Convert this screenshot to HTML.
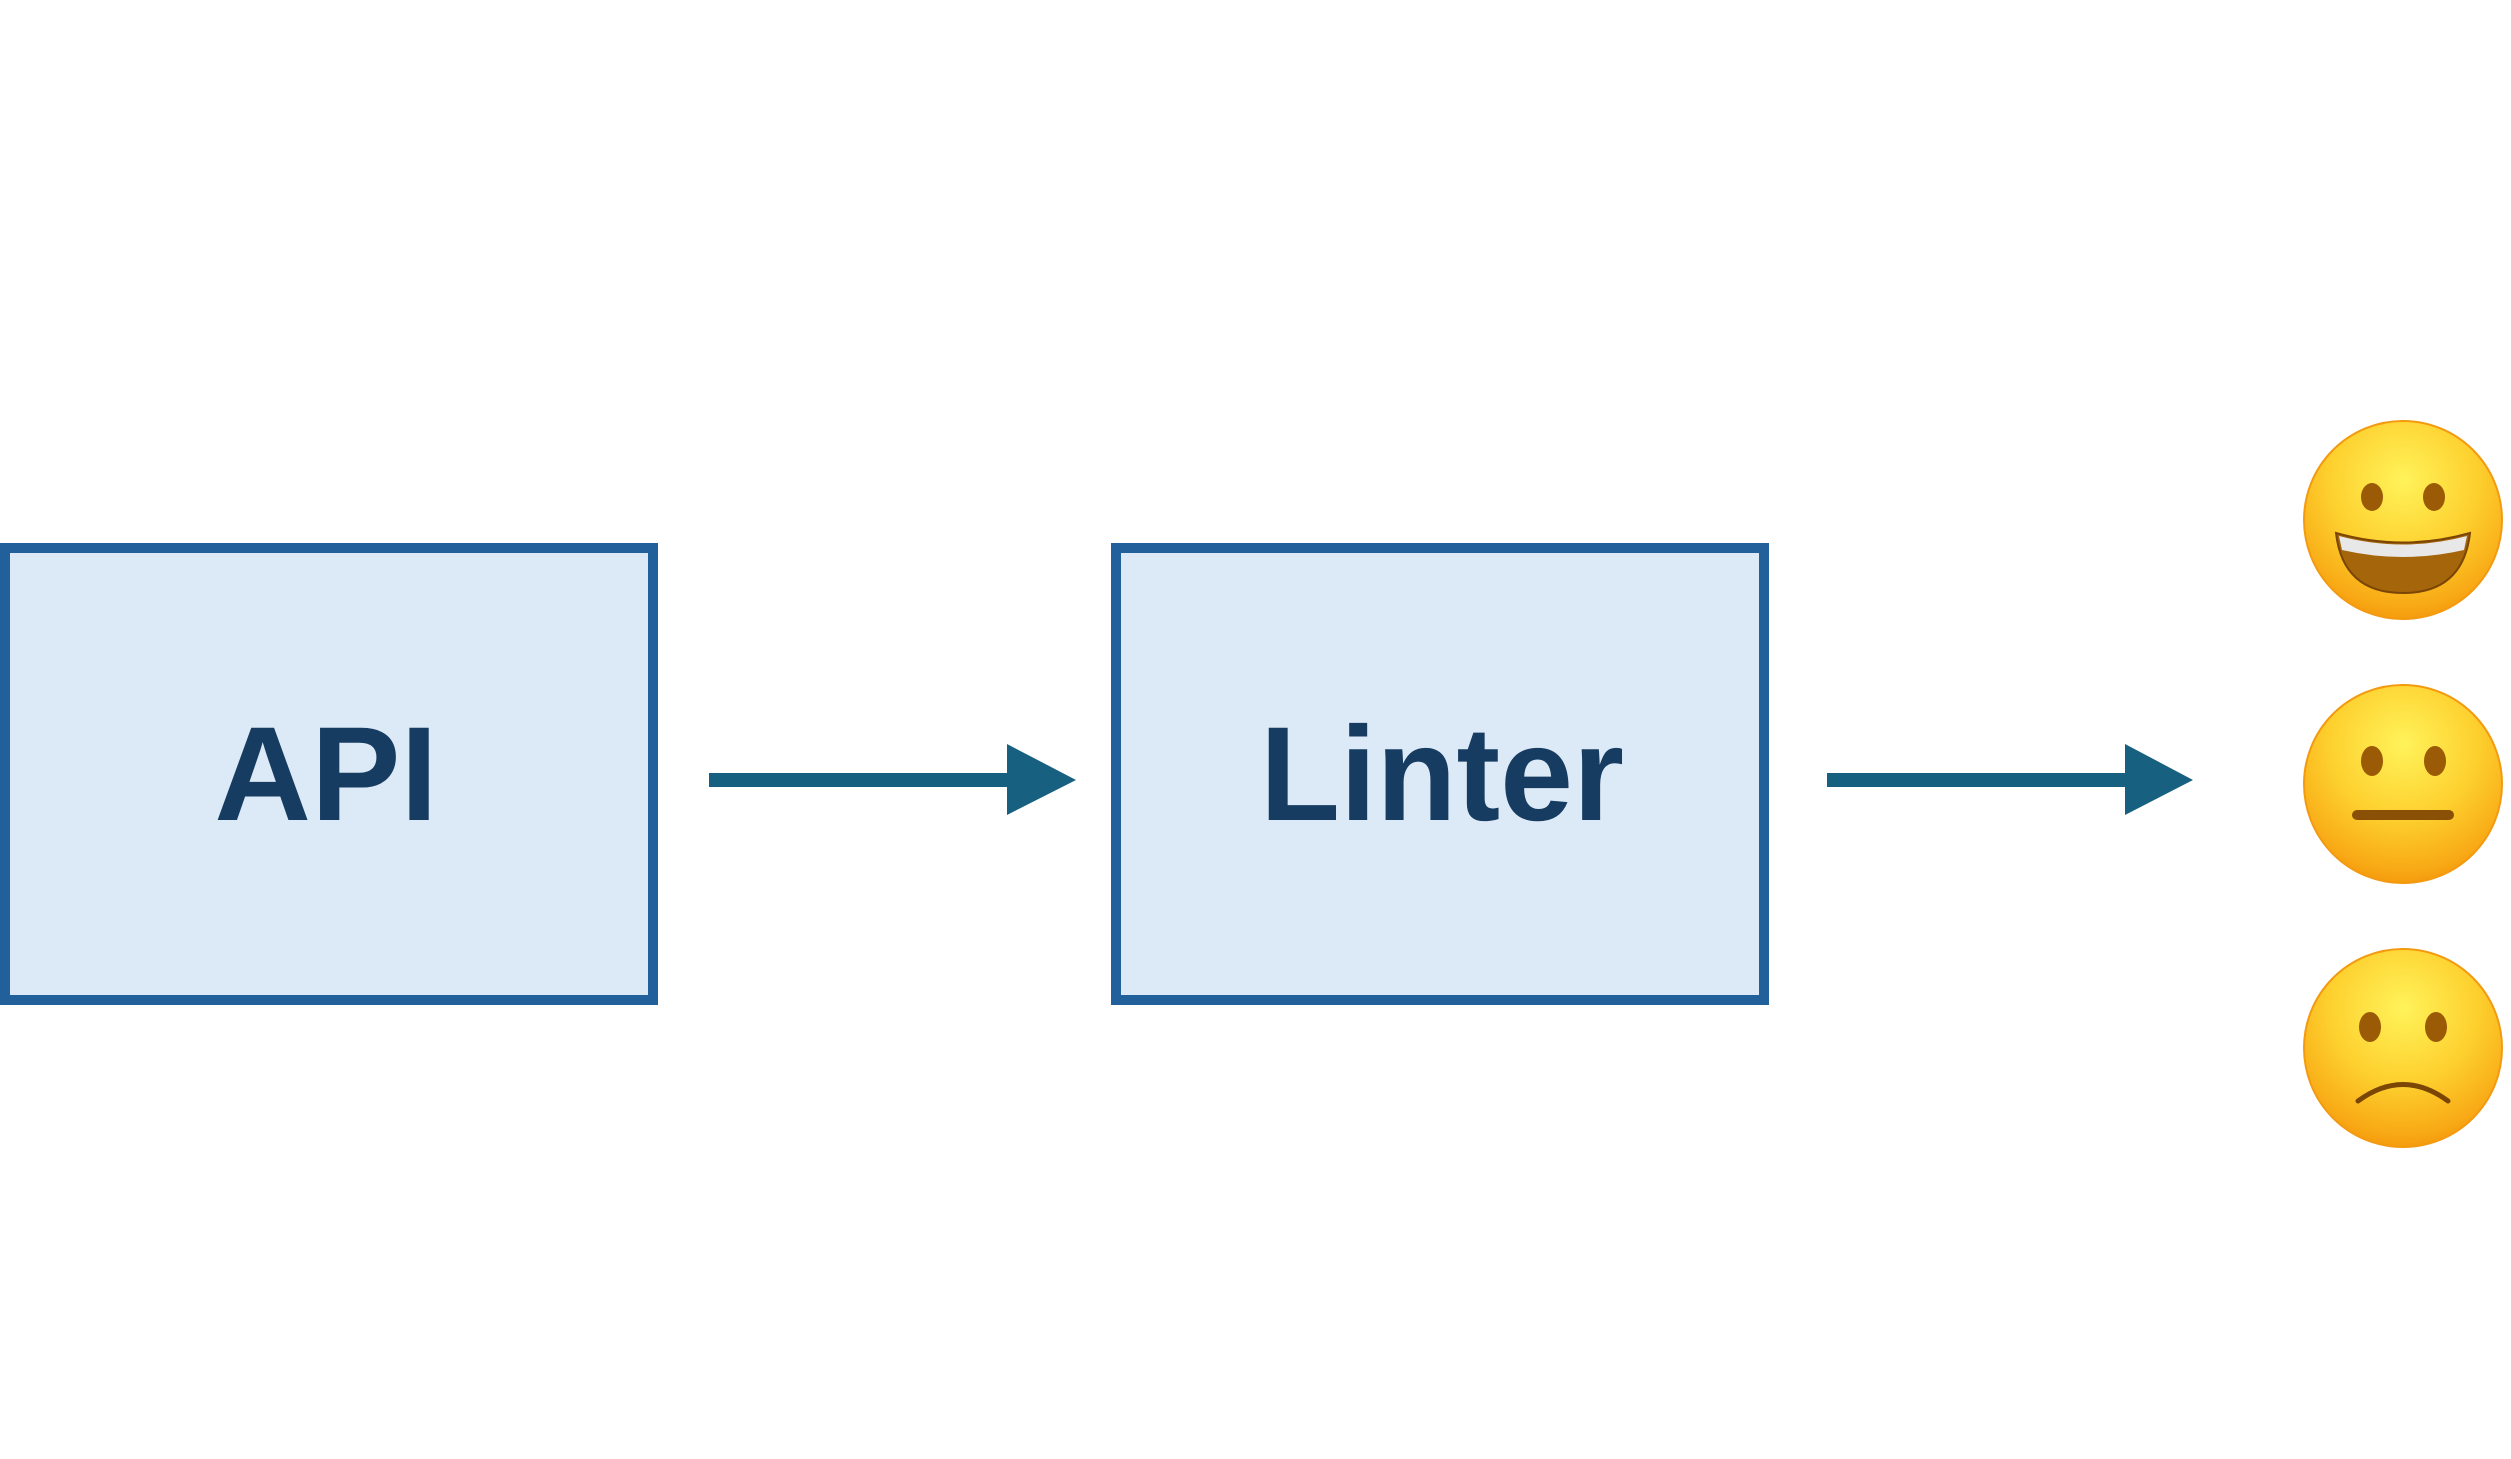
<!DOCTYPE html>
<html><head><meta charset="utf-8"><style>
html,body{margin:0;padding:0;background:#fff;}
body{width:2511px;height:1459px;position:relative;overflow:hidden;}
svg{position:absolute;left:0;top:0;}
</style></head><body>
<svg width="2511" height="1459" viewBox="0 0 2511 1459" xmlns="http://www.w3.org/2000/svg">
<defs>
<radialGradient id="fg" cx="0.5" cy="0.3" r="0.75">
<stop offset="0" stop-color="#fff35a"/>
<stop offset="0.5" stop-color="#fdd02e"/>
<stop offset="0.85" stop-color="#f8a915"/>
<stop offset="1" stop-color="#f29008"/>
</radialGradient>
</defs>
<rect x="5" y="548" width="648" height="452" fill="#dce9f6" stroke="#22609c" stroke-width="10"/>
<rect x="1116" y="548" width="648" height="452" fill="#dce9f6" stroke="#22609c" stroke-width="10"/>
<text x="326" y="820" text-anchor="middle" font-family="Liberation Sans, sans-serif" font-weight="bold" font-size="134" fill="#173c61">API</text>
<text x="1442" y="820" text-anchor="middle" font-family="Liberation Sans, sans-serif" font-weight="bold" font-size="134" fill="#173c61" textLength="364" lengthAdjust="spacingAndGlyphs">Linter</text>
<rect x="709" y="773" width="300" height="14" fill="#17607f"/>
<polygon points="1007,744 1076,780 1007,815" fill="#17607f"/>
<rect x="1827" y="773" width="300" height="14" fill="#17607f"/>
<polygon points="2125,744 2193,780 2125,815" fill="#17607f"/>
<g transform="translate(2403,520)">
<circle r="99" fill="url(#fg)" stroke="#f39a10" stroke-width="2"/>
<ellipse cx="-31" cy="-23" rx="11" ry="14" fill="#9a5a06"/>
<ellipse cx="31" cy="-23" rx="11" ry="14" fill="#9a5a06"/>
<path d="M-67,13 Q0,32 67,13 Q60,73 0,73 Q-60,73 -67,13Z" fill="#a5650a" stroke="#7a4505" stroke-width="2"/>
<path d="M-64,16 Q0,33 64,16 L61,30 Q0,44 -61,30Z" fill="#e8e8e8"/>
</g>
<g transform="translate(2403,784)">
<circle r="99" fill="url(#fg)" stroke="#f39a10" stroke-width="2"/>
<ellipse cx="-31" cy="-23" rx="11" ry="15" fill="#9a5a06"/>
<ellipse cx="32" cy="-23" rx="11" ry="15" fill="#9a5a06"/>
<rect x="-51" y="26" width="102" height="10" rx="5" fill="#8a5005"/>
</g>
<g transform="translate(2403,1048)">
<circle r="99" fill="url(#fg)" stroke="#f39a10" stroke-width="2"/>
<ellipse cx="-33" cy="-21" rx="11" ry="15" fill="#9a5a06"/>
<ellipse cx="33" cy="-21" rx="11" ry="15" fill="#9a5a06"/>
<path d="M-45,53 Q0,20 45,53" fill="none" stroke="#7a4505" stroke-width="5" stroke-linecap="round"/>
</g>
</svg>
</body></html>
